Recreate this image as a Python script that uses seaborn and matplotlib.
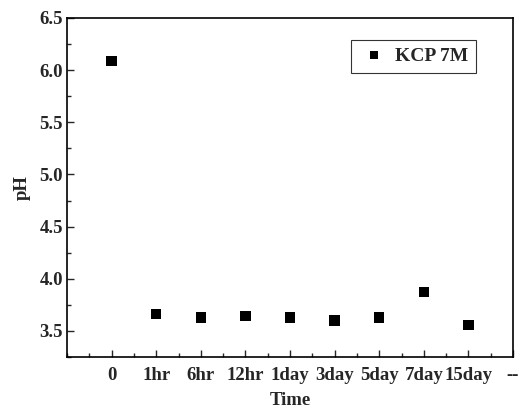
import matplotlib
matplotlib.use("Agg")
import matplotlib.pyplot as plt
from matplotlib.ticker import MultipleLocator, AutoMinorLocator, FormatStrFormatter
import seaborn as sns
import pandas as pd

time_labels = ["0", "1hr", "6hr", "12hr", "1day", "3day", "5day", "7day", "15day", "--"]
sample_times = ["0", "1hr", "6hr", "12hr", "1day", "3day", "5day", "7day", "15day"]
ph_values = [6.09, 3.66, 3.63, 3.64, 3.63, 3.60, 3.63, 3.87, 3.56]
series_name = "KCP 7M"

sns.set_style("ticks")
plt.rcParams["font.family"] = ["Liberation Serif", "DejaVu Serif"]
plt.rcParams["font.weight"] = "bold"

df = pd.DataFrame({
    "pos": [time_labels.index(t) for t in sample_times],
    "pH": ph_values,
    "series": series_name,
})

fig = plt.figure(figsize=(5.26, 4.08), dpi=100)
ax = fig.add_axes([0.1274, 0.125, 0.8479, 0.8309])

sns.scatterplot(data=df, x="pos", y="pH", hue="series", palette=["black"],
                marker="s", s=55, edgecolor="black", linewidth=0, ax=ax)

ax.set_xlim(-1, 9)
ax.set_ylim(3.25, 6.5)
ax.set_xticks(range(len(time_labels)))
ax.set_xticklabels(time_labels)
ax.xaxis.set_minor_locator(MultipleLocator(0.5))
ax.yaxis.set_major_locator(MultipleLocator(0.5))
ax.yaxis.set_minor_locator(AutoMinorLocator(2))
ax.yaxis.set_major_formatter(FormatStrFormatter("%.1f"))

for side in ["top", "right", "left", "bottom"]:
    ax.spines[side].set_visible(True)
    ax.spines[side].set_linewidth(1.2)
    ax.spines[side].set_color("black")

ax.tick_params(axis="both", which="major", direction="in", length=5, width=1,
               labelsize=13.5, top=False, right=False)
ax.tick_params(axis="y", which="major", pad=3)
ax.tick_params(axis="x", which="major", pad=7)
ax.tick_params(axis="both", which="minor", direction="in", length=3, width=1,
               top=False, right=False)
for lbl in ax.get_xticklabels() + ax.get_yticklabels():
    lbl.set_fontweight("bold")

ax.set_xlabel("Time", fontsize=13.5, fontweight="bold", labelpad=6)
ax.set_ylabel("pH", fontsize=13.5, fontweight="bold", labelpad=6)

leg = ax.legend(loc="upper right", bbox_to_anchor=(0.918, 0.935), frameon=True,
                fancybox=False, edgecolor="black", handletextpad=0.3,
                handlelength=1.6, borderpad=0.4, borderaxespad=0,
                prop={"weight": "bold", "size": 14}, markerscale=0.8)
leg.get_frame().set_linewidth(0.8)

fig.savefig("out.png", dpi=100)
